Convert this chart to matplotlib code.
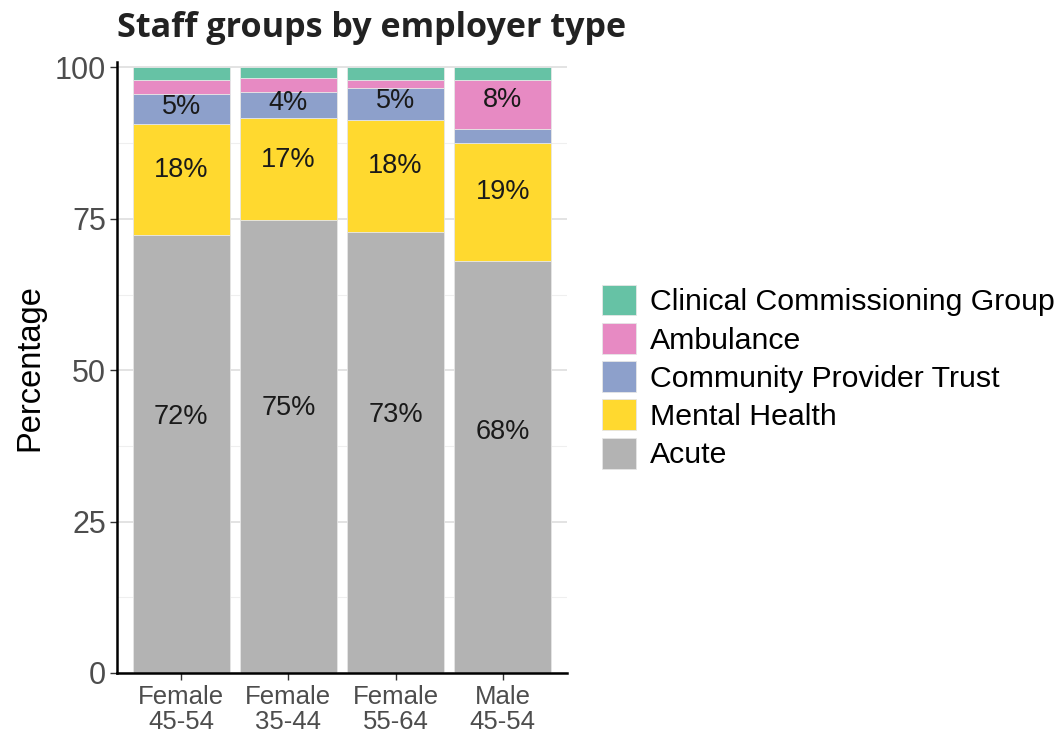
import matplotlib.pyplot as plt
import numpy as np

# staff share (%) by employer type for each sex / age band
groups = ["Female\n45-54", "Female\n35-44", "Female\n55-64", "Male\n45-54"]
employers = ["Acute", "Mental Health", "Community Provider Trust",
             "Ambulance", "Clinical Commissioning Group"]
acute = [72.4, 74.8, 72.9, 68.1]
mental_health = [18.2, 16.9, 18.4, 19.4]
community = [5.0, 4.2, 5.3, 2.4]
ambulance = [2.4, 2.4, 1.4, 8.1]
ccg = [2.0, 1.7, 2.0, 2.0]
colours = ["#B3B3B3", "#FFD92F", "#8DA0CB", "#E78AC3", "#66C2A5"]

series = [acute, mental_health, community, ambulance, ccg]

fig = plt.figure(figsize=(10.59, 7.38), dpi=100)
ax = fig.add_axes([117 / 1059, 1 - 673 / 738, 450 / 1059, 611 / 738])

x = np.arange(len(groups))
bottom = np.zeros(len(groups))
bars = []
for name, vals, col in zip(employers, series, colours):
    vals = np.array(vals)
    b = ax.bar(x, vals, width=0.9, bottom=bottom, color=col,
               edgecolor="#E6E6E6", linewidth=0.6, label=name, zorder=2)
    bars.append(b)
    for xi, v, b0 in zip(x, vals, bottom):
        if v >= 3.5:
            ax.text(xi, b0 + v * 0.585, f"{round(v):.0f}%", ha="center",
                    va="center", fontsize=19.5, color="#1A1A1A",
                    family="Liberation Sans", zorder=3)
    bottom += vals

ax.set_xlim(-0.6, 3.6)
ax.set_ylim(0, 100.9)
ax.set_yticks([0, 25, 50, 75, 100])
ax.set_yticks([12.5, 37.5, 62.5, 87.5], minor=True)
ax.set_xticks(x)
ax.set_xticklabels(groups)
ax.grid(axis="y", which="major", color="#E0E0E0", linewidth=1.3, zorder=0)
ax.grid(axis="y", which="minor", color="#EFEFEF", linewidth=0.8, zorder=0)
ax.tick_params(axis="y", which="minor", length=0)
ax.tick_params(axis="both", which="major", length=5, width=1,
               color="#333333", labelcolor="#4D4D4D")
ax.tick_params(axis="y", pad=3)
for lab in ax.get_yticklabels():
    lab.set_fontsize(22)
    lab.set_family("Liberation Sans")
for lab in ax.get_xticklabels():
    lab.set_fontsize(18.5)
    lab.set_family("Liberation Sans")
    lab.set_linespacing(1.05)

for side in ["top", "right"]:
    ax.spines[side].set_visible(False)
for side in ["left", "bottom"]:
    ax.spines[side].set_linewidth(1.8)
    ax.spines[side].set_color("black")

ax.set_ylabel("Percentage", fontsize=23.5, family="Liberation Sans",
              color="black", labelpad=7)

fig.text(117 / 1059, 1 - 28 / 738, "Staff groups by employer type",
         fontsize=24.6, fontweight="bold", family="Open Sans",
         color="#222222", ha="left", va="center")

handles = [bars[i] for i in range(4, -1, -1)]
labels = [employers[i] for i in range(4, -1, -1)]
leg = fig.legend(handles, labels, loc="center left",
                 bbox_to_anchor=(602 / 1059, 1 - 377 / 738),
                 frameon=False, prop={"family": "Liberation Sans", "size": 21.8},
                 handlelength=1.12, handleheight=1.19, labelspacing=0.22,
                 handletextpad=0.45, borderaxespad=0, borderpad=0)

fig.savefig("out.png", dpi=100)
